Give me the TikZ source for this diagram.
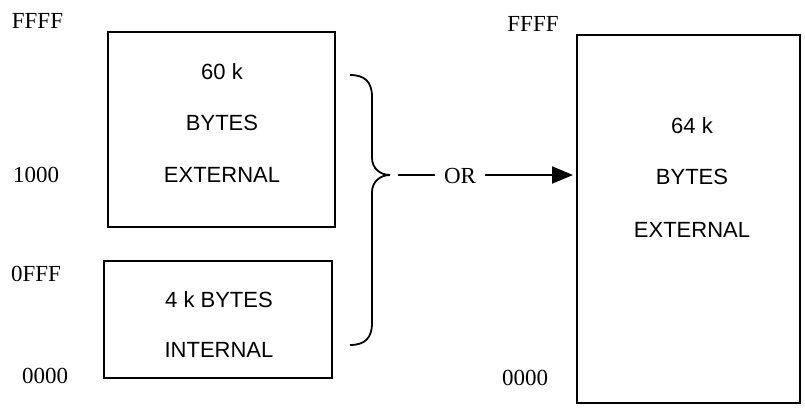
\documentclass[tikz,border=0pt]{standalone}
\usepackage{fontspec}
\setmainfont{Liberation Serif}
\setsansfont{Liberation Sans}
\usetikzlibrary{arrows.meta}
\tikzset{
	addr/.style={inner sep=0pt,font=\fontsize{23}{26}\selectfont},
	memtext/.style={inner sep=0pt,font=\sffamily\fontsize{22}{26}\selectfont},
	membox/.style={draw,line width=2pt,inner sep=0pt},
}
\begin{document}
\begin{tikzpicture}[x=1pt,y=-1pt]
				\useasboundingbox (0,0) rectangle (805,408);
				% left map
				\node[membox,minimum width=227pt,minimum height=195pt] (ext60) at (221.5,129.5) {};
				\node[membox,minimum width=228pt,minimum height=117pt] (int4) at (218,319.5) {};
				\node[memtext] (t60) at (222,72) {60 k};
				\node[memtext] (tb60) at (222,123) {BYTES};
				\node[memtext] (te60) at (222,175) {EXTERNAL};
				\node[memtext] (t4) at (219,300) {4 k BYTES};
				\node[memtext] (ti4) at (219,350) {INTERNAL};
				\node[addr] (lffff) at (37.5,21) {FFFF};
				\node[addr] (l1000) at (36,175) {1000};
				\node[addr] (l0fff) at (36,274) {0FFF};
				\node[addr] (l0000) at (45,376) {0000};
				% brace
				\coordinate (tip) at (390,175);
				\draw[line width=1.8pt] (350,75) .. controls (365,75) and (372,82) .. (372,97) -- (372,158)
					.. controls (372,168) and (380,175) .. (tip)
					.. controls (380,175) and (372,182) .. (372,192) -- (372,323)
					.. controls (372,338) and (365,345) .. (350,345);
				\node[addr,inner xsep=9pt] (or) at (460,176) {OR};
				\draw[line width=1.8pt] ([xshift=8pt]tip) -- (or.west |- tip);
				% right map
				\node[membox,minimum width=223pt,minimum height=368pt] (ext64) at (688.5,219) {};
				\node[memtext] (t64) at (692,126) {64 k};
				\node[memtext] (tb64) at (692,177) {BYTES};
				\node[memtext] (te64) at (692,230) {EXTERNAL};
				\node[addr] (rffff) at (533,24) {FFFF};
				\node[addr] (r0000) at (525,378) {0000};
				\draw[line width=1.8pt,-{Triangle[length=21pt,width=17pt]}] (or.east |- tip) -- ([xshift=-3pt]ext64.west |- tip);
			\end{tikzpicture}
\end{document}
